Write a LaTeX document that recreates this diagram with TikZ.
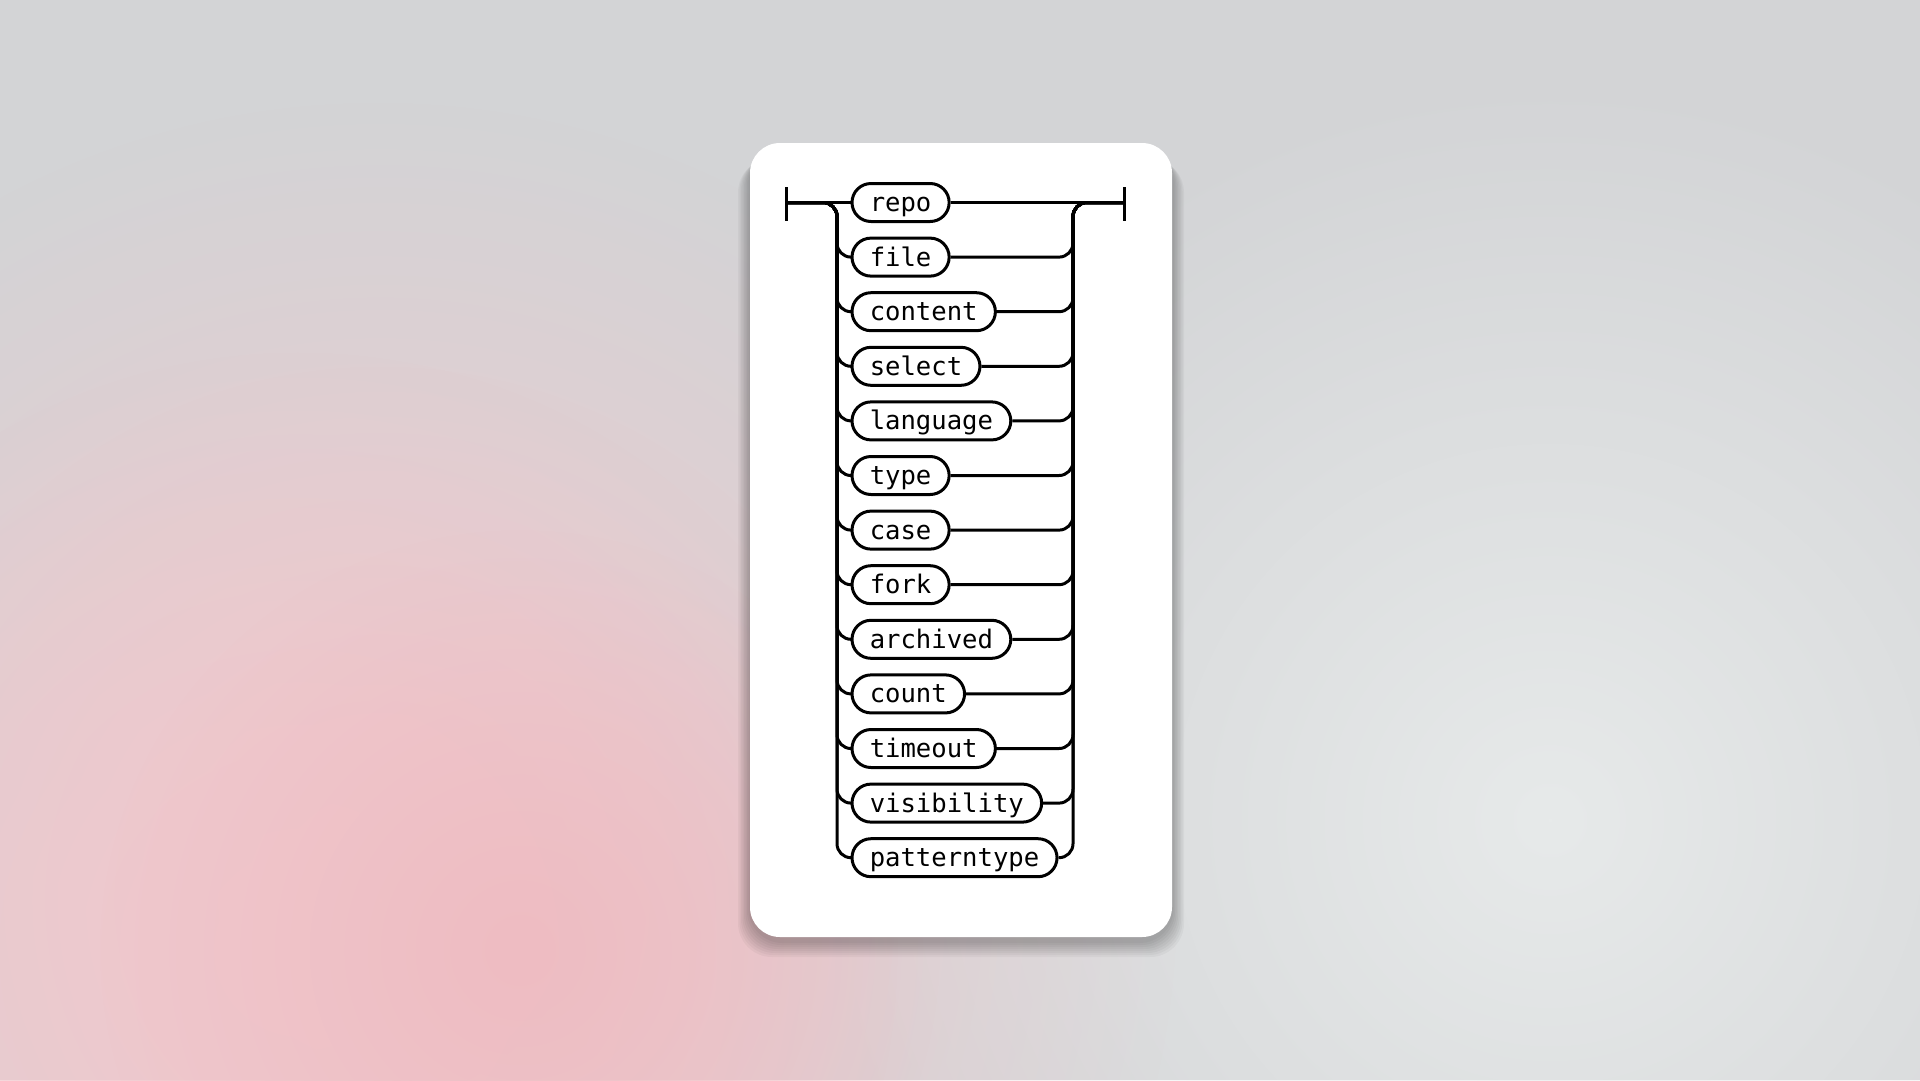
\documentclass[tikz,border=0pt]{standalone}
\usepackage{fontspec}
\setmonofont{DejaVu Sans Mono}
\usetikzlibrary{fadings}
\definecolor{bgbase}{RGB}{211,212,214}
\definecolor{bglight}{RGB}{231,234,234}
\definecolor{bgpink}{RGB}{241,200,205}
\definecolor{bgpinkdeep}{RGB}{238,188,194}
\tikzfading[name=fuzzy, inner color=transparent!0, outer color=transparent!100]
\tikzset{
  term/.style={draw=black, line width=3pt, fill=white, rounded corners=19pt,
    minimum height=38pt, inner xsep=17.75pt, inner ysep=0pt,
    text height=24pt, text depth=6pt, anchor=west,
    font=\fontsize{25.6}{30}\selectfont\ttfamily},
  rail/.style={draw=black, line width=3pt, rounded corners=14pt},
  bar/.style={draw=black, line width=3pt}
}
\begin{document}
\begin{tikzpicture}[x=1pt,y=-1pt]
\useasboundingbox (0,0) rectangle (1920,1080);
% background
\fill[bgbase] (0,0) rectangle (1920,1080);
\fill[bglight, path fading=fuzzy] (1550,820) circle (750);
\fill[bgpink, path fading=fuzzy] (380,900) circle (800);
\fill[bgpink, path fading=fuzzy] (300,950) circle (600);
\fill[bgpinkdeep, path fading=fuzzy] (520,950) circle (420);
% card shadow
\foreach \k in {1,...,8}{
  \fill[black, opacity=0.035, rounded corners=34pt]
    (750-\k*1.5,143+6+\k*1.2) rectangle (1172+\k*1.5,937+4+\k*2);
}
\fill[white, rounded corners=30pt] (750,143) rectangle (1172,937);
% terms
\foreach \t [count=\i from 0] in {repo,file,content,select,language,type,case,fork,archived,count,timeout,visibility,patterntype}{
  \node[term] (r\i) at (850.5,202.5+54.6*\i) {\t};
}
\coordinate (L) at (786,202.5);
\coordinate (R) at (1124,202.5);
\coordinate (Lt) at (786,187);
\coordinate (Lb) at (786,221);
\coordinate (Rt) at (1124,187);
\coordinate (Rb) at (1124,221);
\draw[bar] (Lt) -- (Lb);
\draw[bar] (Rt) -- (Rb);
\draw[bar] (L) -- (r0.west);
\draw[bar] (r0.east) -- (R);
\foreach \i in {1,...,12}{
  \draw[rail] (L) -- (837,202.5) |- (r\i.west);
  \draw[rail] (r\i.east) -| (1073,202.5) -- (R);
}
\end{tikzpicture}
\end{document}
